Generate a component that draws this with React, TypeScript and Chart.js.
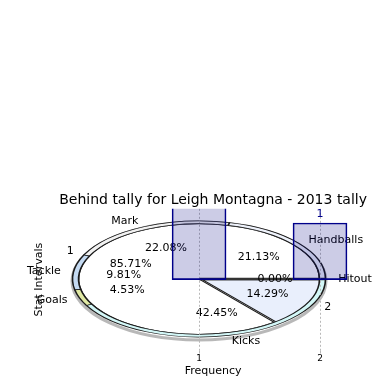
import React, { useEffect, useRef } from "react";
import { Chart, registerables } from "chart.js";

Chart.register(...registerables);

const FONT = "'DejaVu Sans', sans-serif";

const TITLE = "Behind tally for Leigh Montagna - 2013 tally";
const X_AXIS_TITLE = "Frequency";
const Y_AXIS_TITLE = "Stat Intervals";

// bar series (Frequency)
const barPositions = [1, 2];
const barValues = [2, 1];
const xTickLabels = ["1", "2"];

// pie series 1 (stats)
const statLabels = ["Handballs", "Mark", "Tackle", "Goals", "Kicks", "Hitout"];
const statShares = [21.13, 22.08, 9.81, 4.53, 42.45, 0.0];
const statColors = ["#eef2fb", "#f2f2f2", "#c4daf2", "#e0e9a4", "#d3f7f7", "#dddddd"];

// pie series 2 (intervals)
const intervalLabels = ["1", "2"];
const intervalShares = [85.71, 14.29];
const intervalColors = ["#ffffff", "#e9effc"];
const EXPLODE = 16;

// pie placement on the page
const PCX = 199;
const PCY = 279;
const RX = 126.5;
const RY = 58;

const pieSquash = {
  id: "pieSquash",
  beforeDatasetsDraw(chart: any) {
    const { ctx } = chart;
    const arc = chart.getDatasetMeta(0).data[0];
    ctx.save();
    ctx.beginPath();
    ctx.ellipse(PCX, PCY + 2, RX + 0.5, RY + 1, 0, 0, Math.PI * 2);
    ctx.strokeStyle = "rgba(0,0,0,0.28)";
    ctx.lineWidth = 3;
    ctx.stroke();
    ctx.restore();
    ctx.save();
    ctx.translate(PCX, PCY);
    ctx.scale(RX / arc.outerRadius, -RY / arc.outerRadius);
    ctx.translate(-arc.x, -arc.y);
  },
  afterDatasetsDraw(chart: any) {
    const { ctx } = chart;
    ctx.restore();
    const groups = [
      { meta: chart.getDatasetMeta(0), labels: statLabels, values: statShares },
      { meta: chart.getDatasetMeta(1), labels: intervalLabels, values: intervalShares },
    ];
    ctx.save();
    // zero-size slices drawn as a radial edge
    groups[0].meta.data.forEach((a: any, i: number) => {
      if (groups[0].values[i] !== 0) return;
      const ang = a.startAngle;
      ctx.beginPath();
      ctx.moveTo(PCX, PCY);
      ctx.lineTo(PCX + RX * Math.cos(ang), PCY - RY * Math.sin(ang));
      ctx.strokeStyle = "#333";
      ctx.lineWidth = 2.5;
      ctx.stroke();
    });
    ctx.font = `11px ${FONT}`;
    ctx.fillStyle = "#000";
    ctx.textBaseline = "middle";
    groups.forEach((g) => {
      const sum = g.values.reduce((s, v) => s + v, 0);
      g.meta.data.forEach((a: any, i: number) => {
        const mid = (a.startAngle + a.endAngle) / 2;
        const c = Math.cos(mid);
        const s = Math.sin(mid);
        ctx.textAlign = c > 0 ? "left" : "right";
        ctx.fillText(g.labels[i], PCX + RX * 1.1 * c, PCY - RY * 1.1 * s);
        ctx.textAlign = "center";
        ctx.fillText(((g.values[i] / sum) * 100).toFixed(2) + "%", PCX + RX * 0.6 * c, PCY - RY * 0.6 * s);
      });
    });
    ctx.restore();
  },
};

const barValueLabels = {
  id: "barValueLabels",
  afterDatasetsDraw(chart: any) {
    const { ctx, chartArea } = chart;
    const meta = chart.getDatasetMeta(0);
    ctx.save();
    ctx.font = `11px ${FONT}`;
    ctx.fillStyle = "#00008b";
    ctx.textAlign = "center";
    ctx.textBaseline = "bottom";
    meta.data.forEach((bar: any, i: number) => {
      if (bar.y < chartArea.top) return;
      ctx.fillText(String(barValues[i]), bar.x, bar.y - 3);
    });
    ctx.restore();
  },
};

export default function App() {
  const pieRef = useRef<HTMLCanvasElement>(null);
  const barRef = useRef<HTMLCanvasElement>(null);

  useEffect(() => {
    const pie = new Chart(pieRef.current as HTMLCanvasElement, {
      type: "pie",
      data: {
        labels: statLabels,
        datasets: [
          {
            data: statShares,
            backgroundColor: statColors,
            borderColor: "#1a1a1a",
            borderWidth: 1.6,
            weight: 1,
            // zero slice carries the same offset so both rings share one radius
            offset: statShares.map((v) => (v === 0 ? EXPLODE : 0)),
            hoverOffset: 0,
            clip: false,
          } as any,
          {
            data: intervalShares,
            backgroundColor: intervalColors,
            borderColor: "#1a1a1a",
            borderWidth: 1.6,
            weight: 20,
            offset: intervalShares.map((_v, i) => (i === 1 ? EXPLODE : 0)),
            hoverOffset: 0,
            clip: false,
          } as any,
        ],
      },
      options: {
        responsive: false,
        animation: false,
        rotation: 90,
        layout: { padding: 60 },
        events: [],
        plugins: {
          legend: { display: false },
          tooltip: { enabled: false },
          title: { display: false },
        },
      } as any,
      plugins: [pieSquash],
    });

    const bar = new Chart(barRef.current as HTMLCanvasElement, {
      type: "bar",
      data: {
        datasets: [
          {
            data: barPositions.map((x, i) => ({ x, y: barValues[i] })),
            backgroundColor: "rgba(0,0,128,0.2)",
            borderColor: "#00008b",
            borderWidth: 1,
            borderSkipped: false,
            barThickness: 54,
            clip: 0,
          } as any,
        ],
      },
      options: {
        responsive: false,
        animation: false,
        events: [],
        layout: { padding: { top: 192, left: 29, right: 14, bottom: 12.5 } },
        plugins: {
          legend: { display: false },
          tooltip: { enabled: false },
          title: {
            display: true,
            text: TITLE,
            fullSize: false,
            color: "#000",
            font: { family: FONT, size: 14, weight: "normal" },
            padding: { top: 0, bottom: 0 },
          },
        },
        scales: {
          x: {
            type: "linear",
            offset: false,
            min: -0.231,
            max: 2.463,
            afterBuildTicks: (axis: any) => {
              axis.ticks = barPositions.map((v) => ({ value: v }));
            },
            ticks: {
              autoSkip: false,
              maxRotation: 0,
              color: "#000",
              padding: 0,
              font: { family: FONT, size: 9 },
              callback: (_v: any, i: number) => xTickLabels[i],
            },
            grid: { color: "#b8b8b8", lineWidth: 1, tickLength: 3, offset: false },
            border: { display: false, dash: [2, 2] },
            title: {
              display: true,
              text: X_AXIS_TITLE,
              color: "#000",
              font: { family: FONT, size: 11 },
              padding: { top: 0, bottom: 0 },
            },
          },
          y: {
            min: -1.25,
            max: 1.25,
            ticks: { display: false },
            grid: { display: false, drawTicks: false },
            border: { display: false },
            title: {
              display: true,
              text: Y_AXIS_TITLE,
              color: "#000",
              font: { family: FONT, size: 11 },
              padding: { top: 4, bottom: 4 },
            },
          },
        },
      } as any,
      plugins: [barValueLabels],
    });

    return () => {
      pie.destroy();
      bar.destroy();
    };
  }, []);

  return (
    <div
      style={{
        position: "fixed",
        left: 0,
        top: 0,
        width: 390,
        height: 390,
        overflow: "hidden",
        background: "#fff",
      }}
    >
      <canvas ref={pieRef} width={390} height={390} style={{ position: "absolute", left: 0, top: 0 }} />
      <canvas ref={barRef} width={390} height={390} style={{ position: "absolute", left: 0, top: 0 }} />
    </div>
  );
}
